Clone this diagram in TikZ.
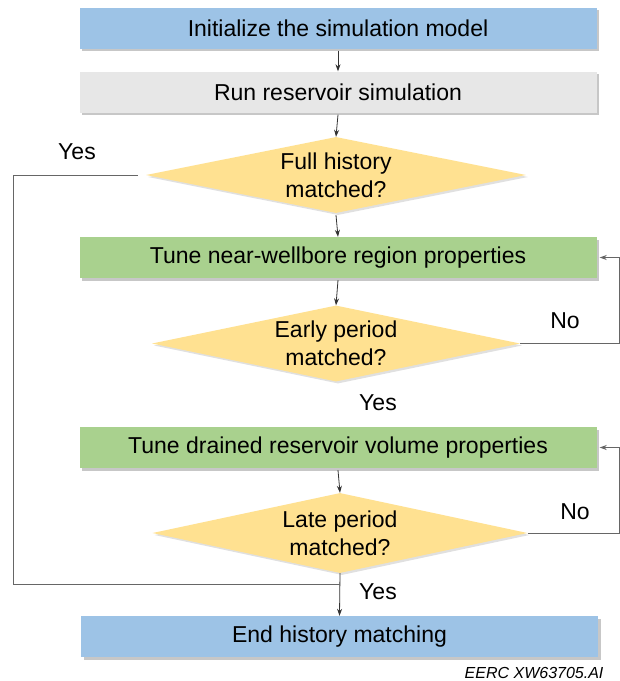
\documentclass[tikz,border=0pt]{standalone}
\usepackage{fontspec}
\setmainfont{Liberation Sans}
\usetikzlibrary{positioning}
\usetikzlibrary{shapes.geometric}
\usetikzlibrary{shadows}
\usetikzlibrary{arrows.meta}
\definecolor{boxblue}{RGB}{157,195,230}
\definecolor{boxgray}{RGB}{231,231,231}
\definecolor{boxgreen}{RGB}{169,209,142}
\definecolor{askyellow}{RGB}{255,225,145}

\begin{document}
\begin{tikzpicture}[
      x=1pt,y=-1pt,
      font=\fontsize{23}{28}\selectfont,
      stepbox/.style={rectangle,minimum width=517pt,minimum height=41pt,inner sep=0pt,
          drop shadow={shadow xshift=2.5pt,shadow yshift=-2.5pt,fill=black,opacity=0.22}},
      ask/.style={diamond,shape aspect=5,fill=askyellow,align=center,inner sep=0pt,
          minimum width=380pt,minimum height=76pt,
          drop shadow={shadow xshift=2pt,shadow yshift=-2pt,fill=black,opacity=0.12}},
      flow/.style={draw=black!80,line width=0.8pt,-{Stealth[length=7pt,width=5pt]}},
      link/.style={draw=black!60,line width=0.8pt},
    ]
    \useasboundingbox[fill=white] (0,0) rectangle (620,681);
        \node[stepbox,fill=boxblue] (init) at (338,28) {Initialize the simulation model};
        \node[stepbox,fill=boxgray] (run) at (338,92) {Run reservoir simulation};
        \node[ask] (full) at (336,175) {Full history\\matched?};
        \node[stepbox,fill=boxgreen] (nearwell) at (338,257.5) {Tune near-wellbore region properties};
        \node[ask,minimum width=368pt] (early) at (336,343.5) {Early period\\matched?};
        \node[stepbox,fill=boxgreen] (drained) at (338,447.5) {Tune drained reservoir volume properties};
        \node[ask,minimum width=375pt,minimum height=80pt] (late) at (340,533) {Late period\\matched?};
        \node[stepbox,fill=boxblue] (endhm) at (339.5,636.5) {End history matching};

        \node (yesfull) at (77,152) {Yes};
        \node (noearly) at (565,321) {No};
        \node (yesearly) at (378,403) {Yes};
        \node (nolate) at (575,512) {No};
        \node (yeslate) at (378,592) {Yes};
        \node[font=\fontsize{16}{19}\selectfont\itshape,anchor=east] (tag) at (607,673) {EERC XW63705.AI};

        \coordinate (loopcorner) at (13,584);
        \coordinate (merge) at (late.south |- loopcorner);
        \coordinate (rightrail) at (619,0);

        \draw[flow] ([yshift=-2pt]init.south) -- (run.north);
        \draw[flow] ([yshift=-2pt]run.south) -- (full.north);
        \draw[flow] ([yshift=-2pt]full.south) -- (nearwell.north);
        \draw[flow] ([yshift=-2pt]nearwell.south) -- (early.north);
        \draw[flow] ([yshift=-2pt]drained.south) -- (late.north);
        \draw[flow] (late.south) -- (endhm.north);

        \draw[link] ([xshift=-8pt]full.west) -| (loopcorner) -- (merge);
        \draw[flow,draw=black!60] (early.east) -| (rightrail |- nearwell.east) -- ([xshift=3pt]nearwell.east);
        \draw[flow,draw=black!60] (late.east) -| (rightrail |- drained.east) -- ([xshift=3pt]drained.east);
    \end{tikzpicture}
\end{document}
